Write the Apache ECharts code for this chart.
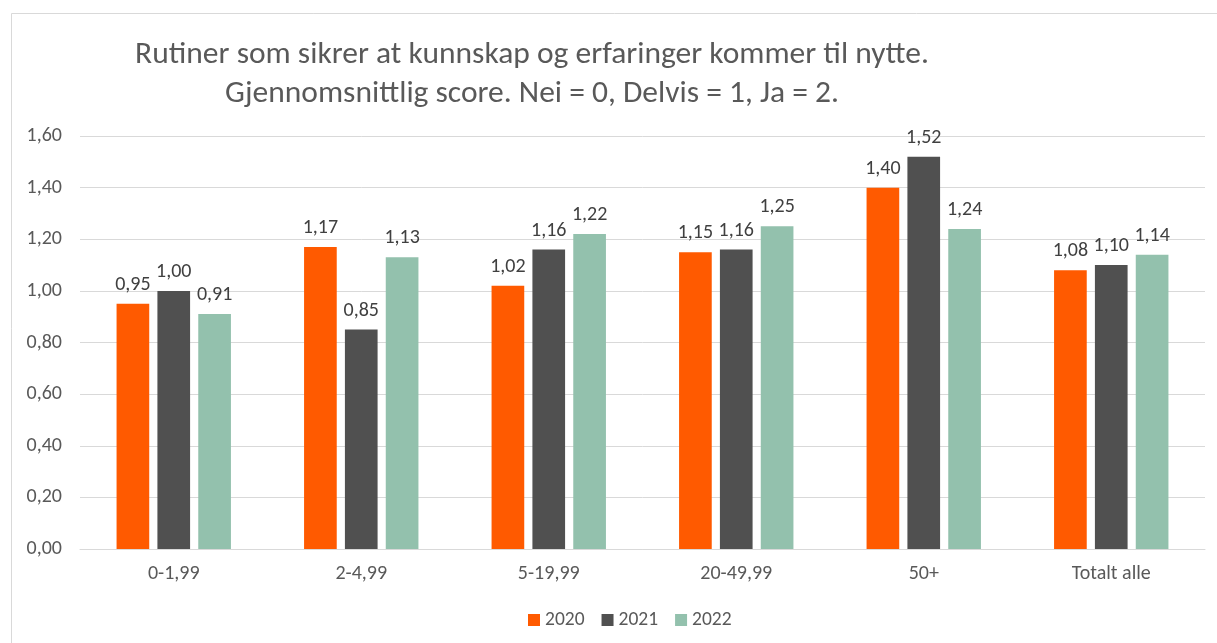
<!DOCTYPE html>
<html><head><meta charset="utf-8">
<script src="https://cdn.jsdelivr.net/npm/echarts@6/dist/echarts.min.js"></script>
<style>html,body{margin:0;padding:0;background:#fff}#c{width:1217px;height:643px}</style>
</head><body><div id="c"></div>
<script>
const categories = ['0-1,99', '2-4,99', '5-19,99', '20-49,99', '50+', 'Totalt alle'];
const seriesNames = ['2020', '2021', '2022'];
const v2020 = [0.95, 1.17, 1.02, 1.15, 1.40, 1.08];
const v2021 = [1.00, 0.85, 1.16, 1.16, 1.52, 1.10];
const v2022 = [0.91, 1.13, 1.22, 1.25, 1.24, 1.14];
const titleLines = ['Rutiner som sikrer at kunnskap og erfaringer kommer til nytte.', 'Gjennomsnittlig score. Nei = 0, Delvis = 1, Ja = 2.'];

const colors = ['#FF5A00', '#505050', '#93C1AD'];
const fmt = v => v.toFixed(2).replace('.', ',');
const font = 'Carlito, "Liberation Sans", sans-serif';

const chart = echarts.init(document.getElementById('c'), null, {renderer: 'canvas'});
const mk = (name, data, i) => ({
  name, type: 'bar', data,
  barGap: '25%', barCategoryGap: '39%',
  itemStyle: {color: colors[i]},
  label: {show: true, position: 'top', distance: 9, color: '#404040', fontSize: 20, fontFamily: font,
    formatter: p => fmt(p.value)}
});
chart.setOption({
  animation: false,
  backgroundColor: '#fff',
  textStyle: {fontFamily: font},
  graphic: [{type: 'rect', shape: {x: 11.5, y: 13.5, width: 1230, height: 660}, style: {fill: 'none', stroke: '#d9d9d9', lineWidth: 1}, silent: true}],
  title: {text: titleLines.join('\n'), left: 527, textAlign: 'center', top: 31,
    textStyle: {fontFamily: font, fontSize: 31.5, fontWeight: 'normal', color: '#595959', lineHeight: 39}},
  legend: {bottom: 8, left: 523, itemWidth: 12, itemHeight: 12, itemGap: 17, icon: 'rect',
    textStyle: {fontFamily: font, fontSize: 19.5, color: '#595959'}, data: seriesNames},
  grid: {left: 80, right: 12, top: 136, bottom: 94},
  xAxis: {type: 'category', data: categories,
    axisLine: {lineStyle: {color: '#d9d9d9'}}, axisTick: {show: false},
    axisLabel: {color: '#595959', fontSize: 20, fontFamily: font, margin: 15}},
  yAxis: {type: 'value', min: 0, max: 1.6, interval: 0.2,
    axisLine: {show: false}, axisTick: {show: false},
    splitLine: {lineStyle: {color: '#d9d9d9'}},
    axisLabel: {color: '#595959', fontSize: 20, fontFamily: font, margin: 18, formatter: v => fmt(v)}},
  series: [mk(seriesNames[0], v2020, 0), mk(seriesNames[1], v2021, 1), mk(seriesNames[2], v2022, 2)]
});
</script></body></html>
